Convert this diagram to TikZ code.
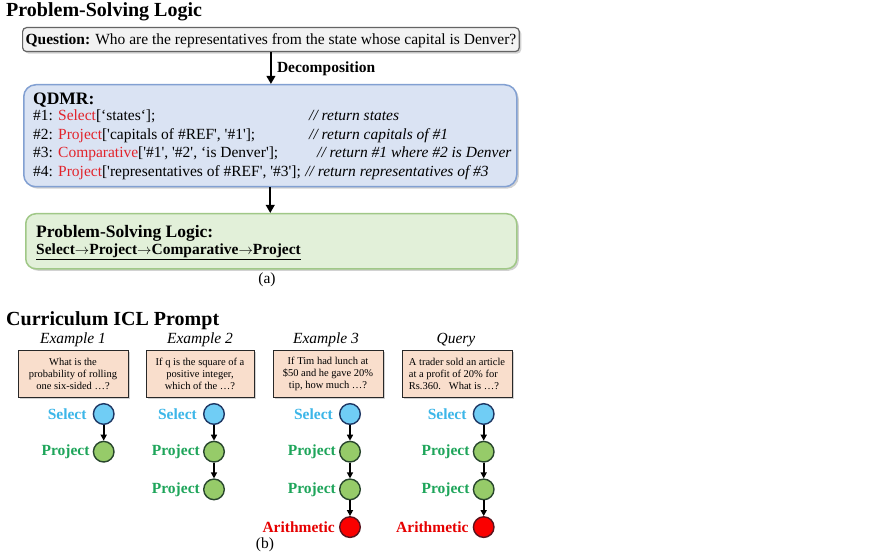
\documentclass[tikz,border=0pt]{standalone}
\usepackage{fontspec}
\setmainfont{Liberation Serif}
\usetikzlibrary{arrows.meta,shadows,calc,positioning}
\definecolor{qred}{RGB}{226,36,44}
\definecolor{qfill}{RGB}{242,242,242}
\definecolor{qborder}{RGB}{100,100,100}
\definecolor{dfill}{RGB}{218,227,243}
\definecolor{dborder}{RGB}{130,160,210}
\definecolor{gfill}{RGB}{226,240,217}
\definecolor{gborder}{RGB}{160,200,135}
\definecolor{pfill}{RGB}{249,222,204}
\definecolor{pborder}{RGB}{40,40,40}
\definecolor{selblue}{RGB}{60,182,232}
\definecolor{selfill}{RGB}{112,205,245}
\definecolor{selline}{RGB}{30,55,100}
\definecolor{progreen}{RGB}{30,165,90}
\definecolor{profill}{RGB}{150,203,105}
\definecolor{proline}{RGB}{40,70,45}
\definecolor{arired}{RGB}{230,0,0}
\definecolor{arifill}{RGB}{250,0,0}
\definecolor{ariline}{RGB}{90,20,30}
\newcommand\fsz[2]{\fontsize{#1}{#2}\selectfont}
\newcommand\sq{\textquotesingle}
\newcommand\rd[1]{\textcolor{qred}{#1}}
\newcommand\ar{\ensuremath{\rightarrow}}
\begin{document}
\begin{tikzpicture}[x=1pt,y=-1pt,
  txt/.style={inner sep=0pt, anchor=base west},
  shad/.style={drop shadow={shadow xshift=2pt, shadow yshift=-2pt, opacity=0.35}},
  qbox/.style={draw=qborder, fill=qfill, line width=1.2pt, rounded corners=4pt, shad},
  dbox/.style={draw=dborder, fill=dfill, line width=1.5pt, rounded corners=12pt, shad},
  gbox/.style={draw=gborder, fill=gfill, line width=1.5pt, rounded corners=10pt, shad},
  pbox/.style={draw=pborder, fill=pfill, line width=0.8pt, shad, minimum width=110pt, minimum height=47pt, inner sep=0pt, font=\fsz{10.5}{12}},
  bigarrow/.style={line width=2.2pt, -{Triangle[length=8pt,width=8.5pt]}},
  smallarrow/.style={line width=1.6pt, -{Triangle[length=6pt,width=6pt]}},
  circ/.style={circle, minimum size=20.6pt, inner sep=0pt, line width=1.4pt},
  selc/.style={circ, draw=selline, fill=selfill},
  proc/.style={circ, draw=proline, fill=profill},
  aric/.style={circ, draw=ariline, fill=arifill},
  lab/.style={inner sep=0pt, font=\fsz{15.5}{18}\bfseries},
  labsel/.style={lab, text=selblue},
  labpro/.style={lab, text=progreen},
  labari/.style={lab, text=arired},
  exlab/.style={inner sep=0pt, anchor=base, font=\fsz{15.5}{18}\itshape},
  code/.style={txt, font=\fsz{15.5}{18}},
  cmt/.style={txt, font=\fsz{15.5}{18}\itshape}
]
\useasboundingbox (0,0) rectangle (889,556);
\fill[white] (0,0) rectangle (889,556);

% ---------- (a) ----------
\node[txt, font=\fsz{20}{24}\bfseries] (t1) at (6,17) {Problem-Solving Logic};

\node[qbox, anchor=north west, inner xsep=3pt, inner ysep=0pt, minimum height=24pt,
      text height=11pt, text depth=2pt, font=\fsz{15.5}{18}] (q) at (22,27)
  {\textbf{Question:} Who are the representatives from the state whose capital is Denver?};

\node[dbox, anchor=north west, minimum width=493pt, minimum height=102pt] (qdmr) at (23,84) {};
\draw[bigarrow] (q.south) -- (q.south |- qdmr.north)
  node[midway, right, xshift=3pt, yshift=-1pt, inner sep=2pt, font=\fsz{15.5}{18}\bfseries] (dec) {Decomposition};

\node[txt, font=\fsz{17.5}{20}\bfseries] (qd) at (33,104.5) {QDMR:};
\node[code] (l1) at (33,121) {\#1: \rd{Select}[`states`];};
\node[code] (l2) at (33,139.5) {\#2: \rd{Project}[\sq capitals of \#REF\sq, \sq\#1\sq];};
\node[code] (l3) at (33,158) {\#3: \rd{Comparative}[\sq\#1\sq, \sq\#2\sq, `is Denver\sq];};
\node[code] (l4) at (33,176.5) {\#4: \rd{Project}[\sq representatives of \#REF\sq, \sq\#3\sq];};
\node[cmt] (c1) at (309,121) {// return states};
\node[cmt] (c2) at (309,139.5) {// return capitals of \#1};
\node[cmt] (c3) at (317,158) {// return \#1 where \#2 is Denver};
\node[cmt] (c4) at ($(l4.base east)+(4,0)$) {// return representatives of \#3};

\node[gbox, anchor=north west, minimum width=491pt, minimum height=55pt] (psl) at (25,213) {};
\draw[bigarrow] (qdmr.south) -- (qdmr.south |- psl.north);
\node[txt, font=\fsz{17.5}{20}\bfseries] (pl) at (36,238) {Problem-Solving Logic:};
\node[txt, font=\fsz{15.5}{18}\bfseries] (seq) at (36,254.5) {\underline{Select\ar Project\ar Comparative\ar Project}};
\node[inner sep=0pt, font=\fsz{15.5}{18}] (capa) at (267,280) {(a)};

% ---------- (b) ----------
\node[txt, font=\fsz{20}{24}\bfseries] (t2) at (6,325) {Curriculum ICL Prompt};

\node[exlab] (e1) at (73,343) {Example 1};
\node[exlab] (e2) at (200,343) {Example 2};
\node[exlab] (e3) at (326,343) {Example 3};
\node[exlab] (e4) at (456,343) {Query};

\node[pbox, align=center] (b1) at (73,373.5) {What is the\\probability of rolling\\one six-sided …?};
\node[pbox, align=center, minimum width=108pt] (b2) at (200,373.5) {If q is the square of a\\positive integer,\\which of the …?};
\node[pbox, align=center] (b3) at (328,373.5) {If Tim had lunch at\\\$50 and he gave 20\%\\tip, how much …?};
\node[pbox, align=left] (b4) at (457,373.5) {A trader sold an article\\at a profit of 20\% for\\Rs.360.\ \ \ What is …?};

% example 1
\node[selc] (s1) at (103.7,414) {};
\node[proc] (p1a) at (103.7,451.7) {};
\draw[smallarrow] (s1) -- (p1a);
\node[labsel, left=6pt of s1] (ls1) {Select};
\node[labpro, left=3pt of p1a] (lp1a) {Project};

% example 2
\node[selc] (s2) at (214,414) {};
\node[proc] (p2a) at (214,451.7) {};
\node[proc] (p2b) at (214,489.4) {};
\draw[smallarrow] (s2) -- (p2a);
\draw[smallarrow] (p2a) -- (p2b);
\node[labsel, left=6pt of s2] (ls2) {Select};
\node[labpro, left=3pt of p2a] (lp2a) {Project};
\node[labpro, left=3pt of p2b] (lp2b) {Project};

% example 3
\node[selc] (s3) at (350,414) {};
\node[proc] (p3a) at (350,451.7) {};
\node[proc] (p3b) at (350,489.4) {};
\node[aric] (a3) at (350,527.1) {};
\draw[smallarrow] (s3) -- (p3a);
\draw[smallarrow] (p3a) -- (p3b);
\draw[smallarrow] (p3b) -- (a3);
\node[labsel, left=6pt of s3] (ls3) {Select};
\node[labpro, left=3pt of p3a] (lp3a) {Project};
\node[labpro, left=3pt of p3b] (lp3b) {Project};
\node[labari, left=4pt of a3] (la3) {Arithmetic};

% query
\node[selc] (s4) at (483.7,414) {};
\node[proc] (p4a) at (483.7,451.7) {};
\node[proc] (p4b) at (483.7,489.4) {};
\node[aric] (a4) at (483.7,527.1) {};
\draw[smallarrow] (s4) -- (p4a);
\draw[smallarrow] (p4a) -- (p4b);
\draw[smallarrow] (p4b) -- (a4);
\node[labsel, left=6pt of s4] (ls4) {Select};
\node[labpro, left=3pt of p4a] (lp4a) {Project};
\node[labpro, left=3pt of p4b] (lp4b) {Project};
\node[labari, left=4pt of a4] (la4) {Arithmetic};

\node[inner sep=0pt, font=\fsz{15.5}{18}] (capb) at (265,545) {(b)};
\end{tikzpicture}
\end{document}
